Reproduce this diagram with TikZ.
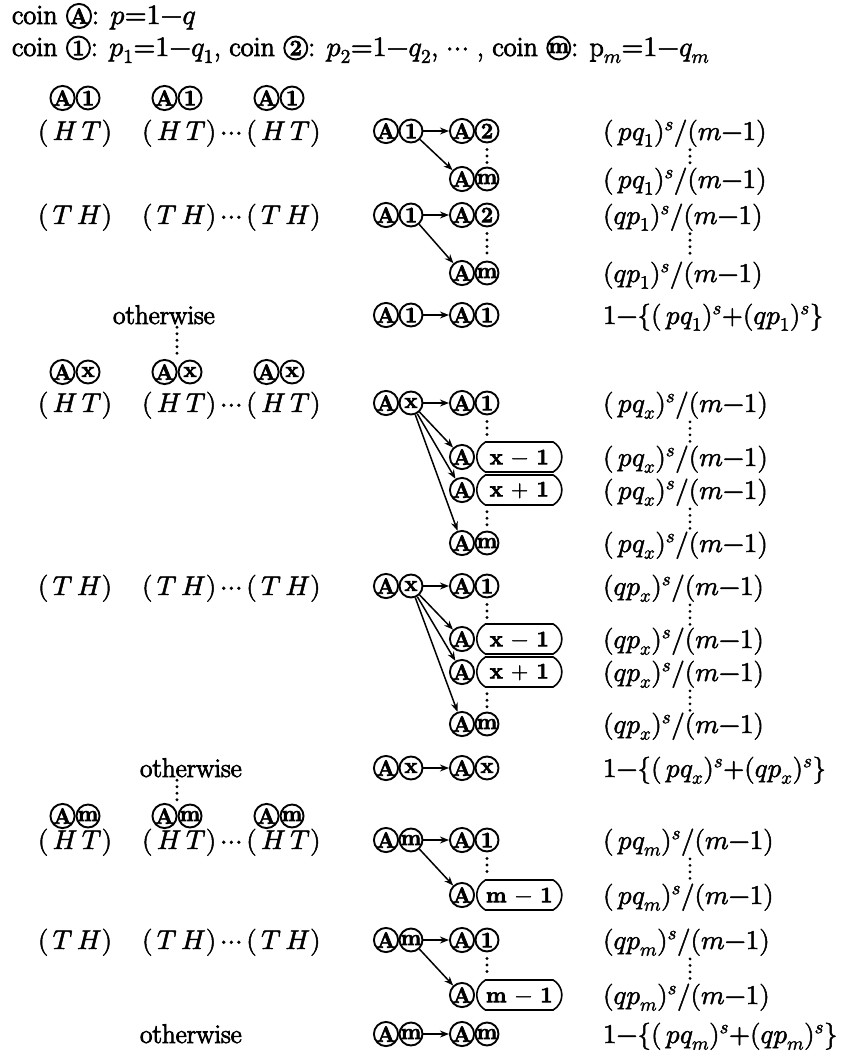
\documentclass[tikz,border=0pt]{standalone}
\usepackage{fontspec}
\usepackage{unicode-math}
\setmainfont{Latin Modern Roman}[FakeBold=3]
\setmathfont{Latin Modern Math}[FakeBold=1.8]
\usetikzlibrary{arrows.meta,shapes.misc}
\tikzset{
  ccirc/.style={draw,circle,line width=1.9pt,inner sep=0pt,minimum size=23pt,font=\fontsize{22}{22}\selectfont\bfseries},
  t/.style={inner sep=0pt,outer sep=0pt,font=\fontsize{27}{32}\selectfont},
  tt/.style={inner sep=0pt,outer sep=0pt,font=\fontsize{28}{32}\selectfont},
  arr/.style={-{Stealth[length=9pt,width=7pt]},line width=1.5pt},
  vd/.style={line width=3.2pt,line cap=round,dash pattern=on 0pt off 6.5pt,shorten <=6pt,shorten >=4pt},
  vdt/.style={line width=3.2pt,line cap=round,dash pattern=on 0pt off 6.5pt,shorten <=3pt,shorten >=2pt},
  encl/.style={draw,rounded rectangle,rounded rectangle arc length=120,line width=1.6pt,minimum width=97pt,minimum height=30pt,inner xsep=6pt,anchor=west,font=\fontsize{22}{22}\selectfont\bfseries},
}
\newcommand{\cc}[1]{\tikz[baseline={([yshift=-8pt]X.center)}]\node[ccirc](X){#1};}
\newcommand{\rHT}{$(\,H\,T)$}
\newcommand{\rHTs}{$(\,H\,T)\cdots(\,H\,T)$}
\newcommand{\rTH}{$(\,T\,H)$}
\newcommand{\rTHs}{$(\,T\,H)\cdots(\,T\,H)$}
\begin{document}
\begin{tikzpicture}[x=1pt,y=-1pt]
\useasboundingbox (0,0) rectangle (845,1062);
% title lines
\node[tt,anchor=base west] (title1) at (12,24) {coin \cc{A}: $p{=}1{-}q$};
\node[tt,anchor=base west] (title2) at (12,56) {coin \cc{1}: $p_1{=}1{-}q_1$, coin \cc{2}: $p_2{=}1{-}q_2$, $\cdots$ , coin \cc{m}: $\mathrm{p}_m{=}1{-}q_m$};

% ===== Section 1 =====
\node[t] (s1h1) at (75,98) {\cc{A}\cc{1}};
\node[t] (s1h2) at (177,98) {\cc{A}\cc{1}};
\node[t] (s1h3) at (279,98) {\cc{A}\cc{1}};
\node[t,anchor=base] (s1l1) at (75,140) {\rHT};
\node[t,anchor=base west] (s1l2) at (142,140) {\rHTs};
% middle
\node[ccirc] (s1aA) at (386,131) {A};
\node[ccirc] (s1a1) at (411,131) {1};
\node[ccirc] (s1bA) at (462,131) {A};
\node[ccirc] (s1b2) at (487,131) {2};
\node[ccirc] (s1cA) at (462,179) {A};
\node[ccirc] (s1cm) at (487,179) {m};
\draw[arr] (s1a1) -- (s1bA);
\draw[arr] (s1a1) -- (s1cA);
\draw[vd] (s1b2) -- (s1cm);
\node[t,anchor=base west] (s1r1) at (603,140) {$(\,pq_1)^s/(m{-}1)$};
\node[t,anchor=base west] (s1r2) at (603,188) {$(\,pq_1)^s/(m{-}1)$};
\draw[vdt] ([xshift=87pt]s1r1.south west) -- ([xshift=87pt]s1r2.north west);
% TH
\node[t,anchor=base] (s1l3) at (75,224) {\rTH};
\node[t,anchor=base west] (s1l4) at (142,224) {\rTHs};
\node[ccirc] (s1dA) at (386,215) {A};
\node[ccirc] (s1d1) at (411,215) {1};
\node[ccirc] (s1eA) at (462,215) {A};
\node[ccirc] (s1e2) at (487,215) {2};
\node[ccirc] (s1fA) at (462,273) {A};
\node[ccirc] (s1fm) at (487,273) {m};
\draw[arr] (s1d1) -- (s1eA);
\draw[arr] (s1d1) -- (s1fA);
\draw[vd] (s1e2) -- (s1fm);
\node[t,anchor=base west] (s1r3) at (603,224) {$(qp_1)^s/(m{-}1)$};
\node[t,anchor=base west] (s1r4) at (603,282) {$(qp_1)^s/(m{-}1)$};
\draw[vdt] ([xshift=87pt]s1r3.south west) -- ([xshift=87pt]s1r4.north west);
% otherwise
\node[t,anchor=base west] (ow1) at (113,324) {otherwise};
\node[ccirc] (s1gA) at (386,315) {A};
\node[ccirc] (s1g1) at (411,315) {1};
\node[ccirc] (s1hA) at (462,315) {A};
\node[ccirc] (s1h1c) at (487,315) {1};
\draw[arr] (s1g1) -- (s1hA);
\node[t,anchor=base west] (s1r5) at (603,324) {$1{-}\{(\,pq_1)^s{+}(qp_1)^s\}$};

% ===== Section 2 =====
\node[t] (s2h1) at (75,372) {\cc{A}\cc{x}};
\node[t] (s2h2) at (177,372) {\cc{A}\cc{x}};
\node[t] (s2h3) at (279,372) {\cc{A}\cc{x}};
\draw[vdt] (ow1.south -| s2h2.north) -- (s2h2.north);
\node[t,anchor=base] (s2l1) at (75,412) {\rHT};
\node[t,anchor=base west] (s2l2) at (142,412) {\rHTs};
\node[ccirc] (s2aA) at (386,403) {A};
\node[ccirc] (s2ax) at (411,403) {x};
\node[ccirc] (s2bA) at (462,403) {A};
\node[ccirc] (s2b1) at (487,403) {1};
\node[ccirc] (s2cA) at (462,457) {A};
\node[encl] (s2cE) at (476,457) {x $-$ 1};
\node[ccirc] (s2dA) at (462,490) {A};
\node[encl] (s2dE) at (476,490) {x $+$ 1};
\node[ccirc] (s2eA) at (462,543) {A};
\node[ccirc] (s2em) at (487,543) {m};
\draw[arr] (s2ax) -- (s2bA);
\draw[arr] (s2ax) -- (s2cA);
\draw[arr] (s2ax) -- (s2dA);
\draw[arr] (s2ax) -- (s2eA);
\draw[vd] (s2b1) -- (s2b1 |- s2cE.north);
\draw[vd] (s2b1 |- s2dE.south) -- (s2em);
\node[t,anchor=base west] (s2r1) at (603,412) {$(\,pq_x)^s/(m{-}1)$};
\node[t,anchor=base west] (s2r2) at (603,466) {$(\,pq_x)^s/(m{-}1)$};
\node[t,anchor=base west] (s2r3) at (603,499) {$(\,pq_x)^s/(m{-}1)$};
\node[t,anchor=base west] (s2r4) at (603,552) {$(\,pq_x)^s/(m{-}1)$};
\draw[vdt] ([xshift=87pt]s2r1.south west) -- ([xshift=87pt]s2r2.north west);
\draw[vdt] ([xshift=87pt]s2r3.south west) -- ([xshift=87pt]s2r4.north west);
% TH
\node[t,anchor=base] (s2l3) at (75,595) {\rTH};
\node[t,anchor=base west] (s2l4) at (142,595) {\rTHs};
\node[ccirc] (s2fA) at (386,586) {A};
\node[ccirc] (s2fx) at (411,586) {x};
\node[ccirc] (s2gA) at (462,586) {A};
\node[ccirc] (s2g1) at (487,586) {1};
\node[ccirc] (s2hA) at (462,639) {A};
\node[encl] (s2hE) at (476,639) {x $-$ 1};
\node[ccirc] (s2iA) at (462,672) {A};
\node[encl] (s2iE) at (476,672) {x $+$ 1};
\node[ccirc] (s2jA) at (462,724) {A};
\node[ccirc] (s2jm) at (487,724) {m};
\draw[arr] (s2fx) -- (s2gA);
\draw[arr] (s2fx) -- (s2hA);
\draw[arr] (s2fx) -- (s2iA);
\draw[arr] (s2fx) -- (s2jA);
\draw[vd] (s2g1) -- (s2g1 |- s2hE.north);
\draw[vd] (s2g1 |- s2iE.south) -- (s2jm);
\node[t,anchor=base west] (s2r5) at (603,595) {$(qp_x)^s/(m{-}1)$};
\node[t,anchor=base west] (s2r6) at (603,648) {$(qp_x)^s/(m{-}1)$};
\node[t,anchor=base west] (s2r7) at (603,681) {$(qp_x)^s/(m{-}1)$};
\node[t,anchor=base west] (s2r8) at (603,733) {$(qp_x)^s/(m{-}1)$};
\draw[vdt] ([xshift=87pt]s2r5.south west) -- ([xshift=87pt]s2r6.north west);
\draw[vdt] ([xshift=87pt]s2r7.south west) -- ([xshift=87pt]s2r8.north west);
% otherwise
\node[t,anchor=base west] (ow2) at (140,777) {otherwise};
\node[ccirc] (s2kA) at (386,768) {A};
\node[ccirc] (s2kx) at (411,768) {x};
\node[ccirc] (s2lA) at (462,768) {A};
\node[ccirc] (s2lx) at (487,768) {x};
\draw[arr] (s2kx) -- (s2lA);
\node[t,anchor=base west] (s2r9) at (603,777) {$1{-}\{(\,pq_x)^s{+}(qp_x)^s\}$};

% ===== Section 3 =====
\node[t] (s3h1) at (75,816) {\cc{A}\cc{m}};
\node[t] (s3h2) at (177,816) {\cc{A}\cc{m}};
\node[t] (s3h3) at (279,816) {\cc{A}\cc{m}};
\draw[vdt] (ow2.south -| s3h2.north) -- (s3h2.north);
\node[t,anchor=base] (s3l1) at (75,849) {\rHT};
\node[t,anchor=base west] (s3l2) at (142,849) {\rHTs};
\node[ccirc] (s3aA) at (386,840) {A};
\node[ccirc] (s3am) at (411,840) {m};
\node[ccirc] (s3bA) at (462,840) {A};
\node[ccirc] (s3b1) at (487,840) {1};
\node[ccirc] (s3cA) at (462,895) {A};
\node[encl] (s3cE) at (476,895) {m $-$ 1};
\draw[arr] (s3am) -- (s3bA);
\draw[arr] (s3am) -- (s3cA);
\draw[vd] (s3b1) -- (s3b1 |- s3cE.north);
\node[t,anchor=base west] (s3r1) at (603,849) {$(\,pq_m)^s/(m{-}1)$};
\node[t,anchor=base west] (s3r2) at (603,904) {$(\,pq_m)^s/(m{-}1)$};
\draw[vdt] ([xshift=87pt]s3r1.south west) -- ([xshift=87pt]s3r2.north west);
% TH
\node[t,anchor=base] (s3l3) at (75,949) {\rTH};
\node[t,anchor=base west] (s3l4) at (142,949) {\rTHs};
\node[ccirc] (s3dA) at (386,940) {A};
\node[ccirc] (s3dm) at (411,940) {m};
\node[ccirc] (s3eA) at (462,940) {A};
\node[ccirc] (s3e1) at (487,940) {1};
\node[ccirc] (s3fA) at (462,995) {A};
\node[encl] (s3fE) at (476,995) {m $-$ 1};
\draw[arr] (s3dm) -- (s3eA);
\draw[arr] (s3dm) -- (s3fA);
\draw[vd] (s3e1) -- (s3e1 |- s3fE.north);
\node[t,anchor=base west] (s3r3) at (603,949) {$(qp_m)^s/(m{-}1)$};
\node[t,anchor=base west] (s3r4) at (603,1004) {$(qp_m)^s/(m{-}1)$};
\draw[vdt] ([xshift=87pt]s3r3.south west) -- ([xshift=87pt]s3r4.north west);
% otherwise
\node[t,anchor=base west] (ow3) at (140,1043) {otherwise};
\node[ccirc] (s3gA) at (386,1034) {A};
\node[ccirc] (s3gm) at (411,1034) {m};
\node[ccirc] (s3hA) at (462,1034) {A};
\node[ccirc] (s3hm) at (487,1034) {m};
\draw[arr] (s3gm) -- (s3hA);
\node[t,anchor=base west] (s3r5) at (603,1043) {$1{-}\{(\,pq_m)^s{+}(qp_m)^s\}$};
\end{tikzpicture}
\end{document}
